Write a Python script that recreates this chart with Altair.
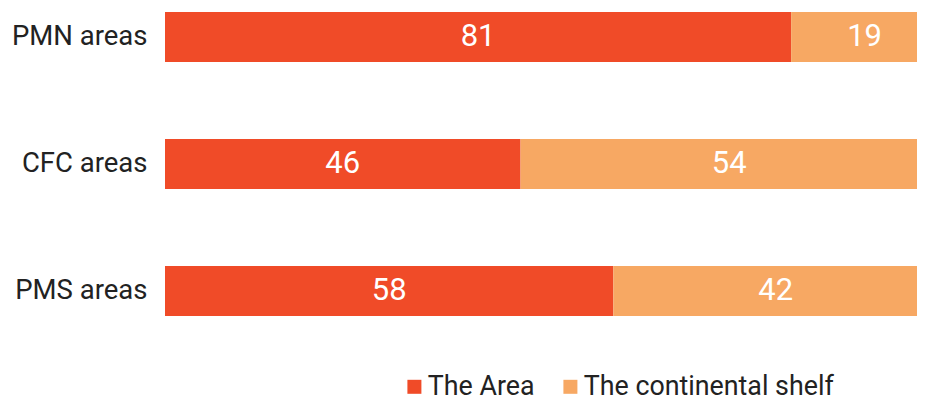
import altair as alt
import pandas as pd

categories = ["PMN areas", "CFC areas", "PMS areas"]
series = ["The Area", "The continental shelf"]
area_values = [81, 46, 58]
shelf_values = [19, 54, 42]
colors = ["#F04B28", "#F7A863"]

rows = []
for c, a, s in zip(categories, area_values, shelf_values):
    rows.append({"category": c, "series": series[0], "value": a, "order": 0})
    rows.append({"category": c, "series": series[1], "value": s, "order": 1})
df = pd.DataFrame(rows)

FONT = "Roboto"

base = alt.Chart(df).transform_stack(
    stack="value", groupby=["category"], as_=["x0", "x1"],
    sort=[alt.SortField("order", order="ascending")]
).transform_calculate(mid="(datum.x0 + datum.x1) / 2")

y_enc = alt.Y("category:N", sort=categories, title=None,
              scale=alt.Scale(paddingInner=0.606, paddingOuter=0),
              axis=alt.Axis(domain=False, ticks=False, labelFontSize=27.5,
                            labelFont=FONT, labelColor="#222222",
                            labelPadding=18))

x_scale = alt.Scale(domain=[0, 100], range=[0, 773], nice=False)

bars = base.mark_bar(clip=True).encode(
    x=alt.X("x0:Q", scale=x_scale, axis=None),
    x2="x1:Q",
    y=y_enc,
    color=alt.Color("series:N", sort=series,
                    scale=alt.Scale(domain=series, range=colors),
                    legend=alt.Legend(title=None, orient="none", direction="horizontal",
                                      legendX=236, legendY=361, padding=0,
                                      symbolType="square", symbolSize=196,
                                      symbolStrokeWidth=0,
                                      labelFontSize=26.8, labelFont=FONT,
                                      labelLimit=400,
                                      labelColor="#222222", columnPadding=22,
                                      symbolOffset=0, labelOffset=0)),
)

labels = base.mark_text(color="white", fontSize=31, font=FONT, baseline="middle").encode(
    x=alt.X("mid:Q"),
    y=alt.Y("category:N", sort=categories),
    text=alt.Text("value:Q"),
)

chart = alt.layer(bars, labels).properties(
    width=752, height=304,
    padding={"left": 3, "top": 4, "right": 0, "bottom": 6},
).configure_view(stroke=None)

chart.save("out.html", embed_options={"renderer": "svg", "actions": False})
